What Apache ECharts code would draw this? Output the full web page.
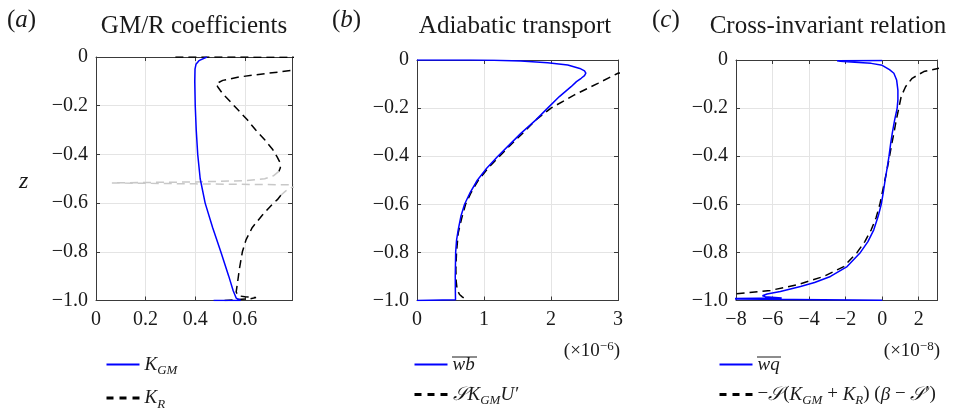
<!DOCTYPE html>
<html><head><meta charset="utf-8">
<script src="https://cdn.jsdelivr.net/npm/echarts/dist/echarts.min.js"></script>
<style>html,body{margin:0;padding:0;background:#fff}#c{width:956px;height:412px}</style>
</head><body><div id="c"></div>
<script>
// ---------- tick labels ----------
const yTicks = [0, -0.2, -0.4, -0.6, -0.8, -1.0];
const yTickLabels = ['0', '\u22120.2', '\u22120.4', '\u22120.6', '\u22120.8', '\u22121.0'];
const xTicksA = [0, 0.2, 0.4, 0.6];
const xTickLabelsA = ['0', '0.2', '0.4', '0.6'];
const xTicksB = [0, 1, 2, 3];
const xTickLabelsB = ['0', '1', '2', '3'];
const xTicksC = [-8, -6, -4, -2, 0, 2];
const xTickLabelsC = ['\u22128', '\u22126', '\u22124', '\u22122', '0', '2'];

// ---------- panel (a): GM/R coefficients ----------
const kgmZ = [0, -0.005, -0.015, -0.03, -0.05, -0.1, -0.2, -0.3, -0.4, -0.5, -0.6, -0.7, -0.8, -0.9, -0.96, -0.99, -1.0, -1.0];
const kgmX = [0.447, 0.44, 0.415, 0.403, 0.399, 0.398, 0.40, 0.404, 0.41, 0.42, 0.44, 0.47, 0.503, 0.535, 0.553, 0.565, 0.583, 0.474];

const krUpperZ = [0, -0.002, -0.045, -0.055, -0.068, -0.082, -0.096, -0.11, -0.123, -0.15, -0.182, -0.22, -0.258, -0.299, -0.34, -0.381, -0.41, -0.436, -0.455, -0.47];
const krUpperX = [0.32, 1.5, 1.5, 0.791, 0.684, 0.577, 0.511, 0.484, 0.491, 0.51, 0.54, 0.575, 0.61, 0.643, 0.68, 0.713, 0.73, 0.743, 0.743, 0.737];

const krGrayZ = [-0.47, -0.488, -0.5, -0.508, -0.513, -0.517, -0.521, -0.525, -0.527, -0.53, -0.535, -0.55, -0.568];
const krGrayX = [0.737, 0.715, 0.68, 0.6, 0.4, 0.064, 0.4, 0.79, 1.2, 1.2, 0.79, 0.765, 0.745];

const krLowerZ = [-0.568, -0.586, -0.6, -0.65, -0.7, -0.75, -0.8, -0.87, -0.93, -0.965, -0.98, -0.985, -0.988, -0.993, -0.997, -1.0];
const krLowerX = [0.745, 0.731, 0.715, 0.67, 0.63, 0.605, 0.59, 0.578, 0.57, 0.565, 0.572, 0.6, 0.645, 0.62, 0.56, 0.51];

// ---------- panel (b): adiabatic transport (x1e-6) ----------
const wbZ = [0, -0.0003, -0.0014, -0.004, -0.011, -0.021, -0.035, -0.045, -0.055, -0.065, -0.076, -0.09, -0.111, -0.152, -0.2, -0.249, -0.305, -0.355, -0.402, -0.45, -0.5, -0.55, -0.6, -0.65, -0.706, -0.75, -0.8, -0.9, -0.97, -0.997, -1.0];
const wbX = [0, 0.8, 1.15, 1.55, 1.95, 2.25, 2.43, 2.5, 2.52, 2.5, 2.45, 2.38, 2.3, 2.125, 1.95, 1.775, 1.55, 1.37, 1.2, 1.04, 0.9, 0.795, 0.71, 0.655, 0.615, 0.59, 0.577, 0.571, 0.573, 0.575, 0];

const skuZ = [-0.02, -0.042, -0.055, -0.097, -0.145, -0.2, -0.25, -0.305, -0.355, -0.402, -0.45, -0.5, -0.55, -0.6, -0.66, -0.72, -0.8, -0.87, -0.92, -0.956, -0.975, -0.985, -1.0];
const skuX = [5, 3.5, 3.0, 2.7, 2.35, 2.0, 1.77, 1.575, 1.39, 1.225, 1.06, 0.915, 0.81, 0.725, 0.665, 0.615, 0.59, 0.58, 0.585, 0.6, 0.635, 0.675, 0.75];

// ---------- panel (c): cross-invariant relation (x1e-8) ----------
const wqZ = [-0.002, -0.003, -0.005, -0.009, -0.014, -0.022, -0.04, -0.055, -0.083, -0.125, -0.166, -0.2, -0.25, -0.305, -0.35, -0.402, -0.45, -0.5, -0.55, -0.6, -0.65, -0.706, -0.755, -0.8, -0.859, -0.9, -0.925, -0.942, -0.963, -0.973, -0.98, -0.984, -0.99, -0.993, -0.999, -0.999];
const wqX = [0, -2.47, -2.3, -1.5, -0.6, 0, 0.4, 0.64, 0.79, 0.86, 0.86, 0.82, 0.68, 0.55, 0.46, 0.37, 0.27, 0.16, 0.06, -0.05, -0.22, -0.46, -0.78, -1.19, -1.92, -2.83, -3.7, -4.47, -5.57, -6.3, -6.55, -6.4, -5.5, -9, -9, 0];

const crossZ = [-0.015, -0.025, -0.035, -0.048, -0.076, -0.111, -0.152, -0.2, -0.25, -0.305, -0.35, -0.402, -0.45, -0.5, -0.55, -0.6, -0.655, -0.706, -0.755, -0.8, -0.859, -0.9, -0.935, -0.958, -0.972, -0.985];
const crossX = [6, 4, 3.05, 2.28, 1.64, 1.28, 1.04, 0.91, 0.77, 0.64, 0.52, 0.4, 0.28, 0.146, 0.01, -0.128, -0.33, -0.6, -0.95, -1.37, -2.1, -3.2, -4.66, -6.12, -8, -10];

// ---------- styling ----------
const FONT = "'Liberation Serif', 'Times New Roman', serif";
const AX = '#3a3a3a';
const GRID = '#e4e4e4';
const BLUE = '#0000ff';
const TXT = '#1a1a1a';

function pairs(xs, zs) { return xs.map((x, i) => [x, zs[i]]); }
function lab(ticks, labels) {
  return function (v) {
    const i = ticks.findIndex(t => Math.abs(t - v) < 1e-6);
    return i < 0 ? '' : '{t|' + labels[i] + '}';
  };
}
const tickRich = { t: { fontFamily: FONT, fontSize: 20, color: TXT } };
function xAxes(gi, min, max, interval, ticks, labels) {
  return [
    { type: 'value', gridIndex: gi, min: min, max: max, interval: interval, position: 'bottom',
      axisLine: { show: true, onZero: false, lineStyle: { color: AX, width: 1 } },
      axisTick: { show: true, inside: true, length: 4, lineStyle: { color: AX } },
      axisLabel: { show: true, margin: 9, fontFamily: FONT, fontSize: 20, color: TXT, formatter: lab(ticks, labels), rich: tickRich, hideOverlap: false },
      splitLine: { show: true, lineStyle: { color: GRID, width: 1 } } },
    { type: 'value', gridIndex: gi, min: min, max: max, interval: interval, position: 'top',
      axisLine: { show: true, onZero: false, lineStyle: { color: AX, width: 1 } },
      axisTick: { show: true, inside: true, length: 4, lineStyle: { color: AX } },
      axisLabel: { show: false }, splitLine: { show: false } }
  ];
}
function yAxes(gi) {
  return [
    { type: 'value', gridIndex: gi, min: -1, max: 0, interval: 0.2, position: 'left',
      axisLine: { show: true, onZero: false, lineStyle: { color: AX, width: 1 } },
      axisTick: { show: true, inside: true, length: 4, lineStyle: { color: AX } },
      axisLabel: { show: true, margin: 8, fontFamily: FONT, fontSize: 20, color: TXT, formatter: lab(yTicks, yTickLabels), rich: tickRich },
      splitLine: { show: true, lineStyle: { color: GRID, width: 1 } } },
    { type: 'value', gridIndex: gi, min: -1, max: 0, interval: 0.2, position: 'right',
      axisLine: { show: true, onZero: false, lineStyle: { color: AX, width: 1 } },
      axisTick: { show: true, inside: true, length: 4, lineStyle: { color: AX } },
      axisLabel: { show: false }, splitLine: { show: false } }
  ];
}
function line(name, xi, data, color, dashed, extra) {
  return Object.assign({
    name: name, type: 'line', xAxisIndex: xi, yAxisIndex: xi, data: data,
    symbol: 'none', showSymbol: false, clip: true, silent: true,
    lineStyle: { color: color, width: 1.5, type: dashed ? [8, 5] : 'solid' },
    itemStyle: { color: color }
  }, extra || {});
}

const rich = {
  k: { fontFamily: FONT, fontSize: 19, fontStyle: 'italic', color: TXT },
  s: { fontFamily: FONT, fontSize: 13, fontStyle: 'italic', color: TXT, padding: [13, 0, 0, 0] },
  n: { fontFamily: FONT, fontSize: 19, color: TXT },
  c: { fontFamily: FONT, fontSize: 19, fontStyle: 'italic', color: TXT }
};
const legendText = {
  'K_GM': '{k|K}{s|GM}',
  'K_R': '{k|K}{s|R}',
  'wb': '{k|wb}',
  'SKU': '{c|\uD835\uDCAE}{k|K}{s|GM}{k|U\u2032}',
  'wq': '{k|wq}',
  'cross': '{n|\u2212}{c|\uD835\uDCAE}{n|(}{k|K}{s|GM}{n| + }{k|K}{s|R}{n|) (}{k|\u03B2}{n| \u2212 }{c|\uD835\uDCAE}{n|\u2032)}'
};
function legend(left, names) {
  return {
    orient: 'vertical', left: left, top: 355, padding: 0, itemGap: 11,
    itemWidth: 33, itemHeight: 14, selectedMode: false,
    itemStyle: { opacity: 0, borderWidth: 0 },
    data: names.map((n, i) => ({
      name: n,
      itemStyle: { opacity: 0, borderWidth: 0 },
      lineStyle: i === 0 ? { width: 2, type: 'solid' } : { width: 3, type: [7, 6] }
    })),
    formatter: n => legendText[n],
    textStyle: { fontFamily: FONT, fontSize: 19, color: TXT, rich: rich }
  };
}

const titleStyle = { fontFamily: FONT, fontSize: 25, fontWeight: 'normal', color: TXT,
  rich: { i: { fontFamily: FONT, fontSize: 25, fontStyle: 'italic', color: TXT } } };

const option = {
  animation: false,
  backgroundColor: '#ffffff',
  textStyle: { fontFamily: FONT },
  title: [
    { text: '({i|a})', left: 2, top: 3, textStyle: titleStyle },
    { text: 'GM/R coefficients', left: 189, textAlign: 'center', top: 9, textStyle: titleStyle },
    { text: '({i|b})', left: 327, top: 3, textStyle: titleStyle },
    { text: 'Adiabatic transport', left: 510, textAlign: 'center', top: 9, textStyle: titleStyle },
    { text: '({i|c})', left: 647, top: 3, textStyle: titleStyle },
    { text: 'Cross-invariant relation', left: 823, textAlign: 'center', top: 9, textStyle: titleStyle }
  ],
  grid: [
    { left: 96, top: 57, width: 196, height: 243.5 },
    { left: 417, top: 60, width: 201, height: 240.5 },
    { left: 736, top: 60, width: 201, height: 240.5 }
  ],
  xAxis: [].concat(
    xAxes(0, 0, 0.79, 0.2, xTicksA, xTickLabelsA),
    xAxes(1, 0, 3, 1, xTicksB, xTickLabelsB),
    xAxes(2, -8, 3, 2, xTicksC, xTickLabelsC)
  ),
  yAxis: [].concat(yAxes(0), yAxes(1), yAxes(2)),
  legend: [
    legend(105, ['K_GM', 'K_R']),
    legend(413, ['wb', 'SKU']),
    legend(718, ['wq', 'cross'])
  ],
  series: [
    line('K_R', 0, pairs(krUpperX, krUpperZ), '#000000', true),
    line('K_R_gray', 0, pairs(krGrayX, krGrayZ), '#c8c8c8', true),
    line('K_R_low', 0, pairs(krLowerX, krLowerZ), '#000000', true),
    line('K_GM', 0, pairs(kgmX, kgmZ), BLUE, false, { z: 3 }),
    line('SKU', 2, pairs(skuX, skuZ), '#000000', true),
    line('wb', 2, pairs(wbX, wbZ), BLUE, false, { z: 3 }),
    line('cross', 4, pairs(crossX, crossZ), '#000000', true),
    line('wq', 4, pairs(wqX, wqZ), BLUE, false, { z: 3 })
  ],
  graphic: [
    { type: 'text', left: 19, top: 170, style: { text: 'z', fontFamily: FONT, fontSize: 24, fontStyle: 'italic', fill: TXT } },
    { type: 'text', right: 956 - 620, top: 340, style: { text: '(\u00D710{p|\u22126})', fontFamily: FONT, fontSize: 19, fill: TXT,
        rich: { p: { fontFamily: FONT, fontSize: 13, fill: TXT, padding: [0, 0, 9, 0] } } } },
    { type: 'text', right: 956 - 940, top: 340, style: { text: '(\u00D710{p|\u22128})', fontFamily: FONT, fontSize: 19, fill: TXT,
        rich: { p: { fontFamily: FONT, fontSize: 13, fill: TXT, padding: [0, 0, 9, 0] } } } },
    { type: 'line', shape: { x1: 452, y1: 357, x2: 477, y2: 357 }, style: { stroke: TXT, lineWidth: 1 } },
    { type: 'line', shape: { x1: 757, y1: 357, x2: 781, y2: 357 }, style: { stroke: TXT, lineWidth: 1 } }
  ]
};

const chart = echarts.init(document.getElementById('c'), null, { renderer: 'canvas' });
chart.setOption(option);
</script></body></html>
